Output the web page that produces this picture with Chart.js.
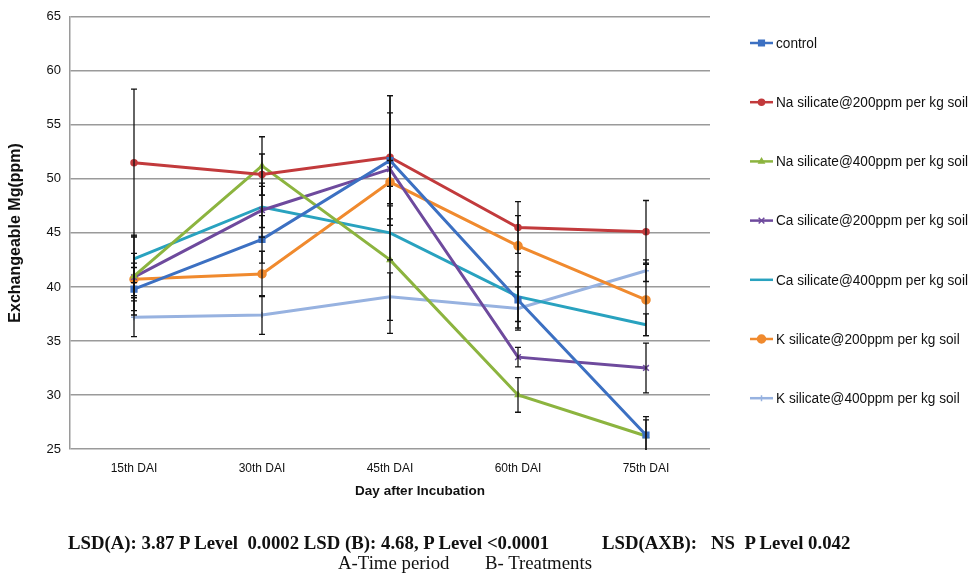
<!DOCTYPE html>
<html>
<head>
<meta charset="utf-8">
<script src="https://cdn.jsdelivr.net/npm/chart.js@4.4.1/dist/chart.umd.min.js"></script>
<style>
  body { margin: 0; background: #fff; }
  #wrap { position: relative; width: 970px; height: 574px; }
  #wrap canvas { position: absolute; left: 0; top: 0; }
  .txt { position: absolute; white-space: pre; color: #111; line-height: 20px; }
  .xt { font: bold 13.5px "Liberation Sans", Arial, sans-serif; }
  .ft { font: bold 18.8px "Liberation Serif", "Times New Roman", serif; }
  .fn { font: 18.8px "Liberation Serif", "Times New Roman", serif; }
</style>
</head>
<body>
<div id="wrap">
  <canvas id="mgChart" width="970" height="574"></canvas>
  <div class="txt xt" style="left:420px; top:483px; transform:translateX(-50%);">Day after Incubation</div>
  <div class="txt ft" style="left:68px; top:532px;">LSD(A): 3.87 P Level  0.0002 LSD (B): 4.68, P Level &lt;0.0001</div>
  <div class="txt ft" style="left:602px; top:532px;">LSD(AXB):   NS  P Level 0.042</div>
  <div class="txt fn" style="left:338px; top:552px;">A-Time period</div>
  <div class="txt fn" style="left:485px; top:552px;">B- Treatments</div>
</div>
<script>
// --- dati ---
const categories = ['15th DAI', '30th DAI', '45th DAI', '60th DAI', '75th DAI'];
const yTicks = [25, 30, 35, 40, 45, 50, 55, 60, 65];

const seriesNames = [
  'control',
  'Na silicate@200ppm per kg soil',
  'Na silicate@400ppm per kg soil',
  'Ca silicate@200ppm per kg soil',
  'Ca silicate@400ppm per kg soil',
  'K silicate@200ppm per kg soil',
  'K silicate@400ppm per kg soil'
];

const control  = [39.8, 44.4, 51.7, 38.8, 26.3];
const naSil200 = [51.5, 50.4, 52.0, 45.5, 45.1];
const naSil400 = [41.0, 51.2, 42.5, 30.0, 26.2];
const caSil200 = [40.9, 47.1, 50.9, 33.5, 32.5];
const caSil400 = [42.6, 47.4, 45.0, 39.1, 36.5];
const kSil200  = [40.7, 41.2, 49.7, 43.8, 38.8];
const kSil400  = [37.2, 37.4, 39.1, 38.0, 41.5];

// barre d'errore (+/-)
const controlErr  = [2.0, 2.2, 6.0, 2.6, 1.7];
const naSil200Err = [6.8, 1.9, 5.7, 2.4, 2.9];
const naSil400Err = [3.6, 2.7, 6.8, 1.6, 1.5];
const caSil200Err = [2.2, 2.5, 5.2, 0.9, 2.3];
const caSil400Err = [2.2, 1.9, 2.5, 2.3, 1.0];
const kSil200Err  = [1.5, 2.1, 2.0, 2.8, 3.3];
const kSil400Err  = [1.8, 1.8, 2.2, 2.0, 1.0];

const values = [control, naSil200, naSil400, caSil200, caSil400, kSil200, kSil400];
const errors = [controlErr, naSil200Err, naSil400Err, caSil200Err, caSil400Err, kSil200Err, kSil400Err];

const colors = ['#3c70c2', '#c23a3c', '#8cb43f', '#6e4a9d', '#29a2bf', '#f08a2e', '#97b2e0'];
const markers = ['rect', 'circle', 'triangle', 'crossRot', 'line', 'circle', 'cross'];
const markerSize = [4, 3, 3, 4, 0, 4, 3];

const FONT = '"Liberation Sans", Arial, sans-serif';

// disegna le barre d'errore usando le scale del grafico
const errorBars = {
  id: 'errorBars',
  afterDatasetsDraw(chart) {
    const { ctx, chartArea, scales } = chart;
    ctx.save();
    ctx.beginPath();
    ctx.rect(chartArea.left, chartArea.top, chartArea.right - chartArea.left, chartArea.bottom - chartArea.top + 1);
    ctx.clip();
    ctx.strokeStyle = '#111';
    ctx.lineWidth = 1.3;
    chart.data.datasets.forEach((ds, i) => {
      ds.data.forEach((v, j) => {
        const e = errors[i][j];
        const x = scales.x.getPixelForValue(j);
        const yTop = scales.y.getPixelForValue(v + e);
        const yBot = scales.y.getPixelForValue(v - e);
        ctx.beginPath();
        ctx.moveTo(x, yTop); ctx.lineTo(x, yBot);
        ctx.moveTo(x - 3, yTop); ctx.lineTo(x + 3, yTop);
        ctx.moveTo(x - 3, yBot); ctx.lineTo(x + 3, yBot);
        ctx.stroke();
      });
    });
    ctx.restore();
  }
};

// legenda a destra, stile Excel (testo un po' stretto come nell'originale)
const sideLegend = {
  id: 'sideLegend',
  afterDraw(chart) {
    const { ctx } = chart;
    ctx.save();
    ctx.font = '14px ' + FONT;
    const longest = Math.max(...chart.data.datasets.map(ds => ctx.measureText(ds.label).width));
    const squeeze = Math.min(1, 192 / longest);
    chart.data.datasets.forEach((ds, i) => {
      const y = 43 + i * 59.2;
      ctx.strokeStyle = ds.borderColor;
      ctx.lineWidth = 2.5;
      ctx.beginPath();
      ctx.moveTo(750, y); ctx.lineTo(773, y);
      ctx.stroke();
      if (ds.pointRadius > 0 && Chart.helpers && Chart.helpers.drawPoint) {
        ctx.fillStyle = ds.borderColor;
        ctx.lineWidth = 1.5;
        Chart.helpers.drawPoint(ctx, { pointStyle: ds.pointStyle, radius: ds.pointRadius, rotation: 0, borderWidth: 1.5 }, 761.5, y);
      }
      ctx.save();
      ctx.translate(776, y + 1);
      ctx.scale(squeeze, 1);
      ctx.fillStyle = '#111';
      ctx.textBaseline = 'middle';
      ctx.textAlign = 'left';
      ctx.fillText(ds.label, 0, 0);
      ctx.restore();
    });
    ctx.restore();
  }
};

const ctx = document.getElementById('mgChart').getContext('2d');
const mgChart = new Chart(ctx, {
  type: 'line',
  data: {
    labels: categories,
    datasets: seriesNames.map((name, i) => ({
      label: name,
      data: values[i],
      borderColor: colors[i],
      backgroundColor: colors[i],
      borderWidth: 3,
      pointStyle: markers[i],
      pointRadius: markerSize[i],
      pointBorderWidth: 1.5,
      tension: 0,
      fill: false
    }))
  },
  options: {
    responsive: false,
    animation: false,
    layout: { padding: { top: 12, right: 260, left: 0, bottom: 0 } },
    plugins: {
      legend: { display: false },
      tooltip: { enabled: false }
    },
    scales: {
      x: {
        offset: true,
        grid: { display: false, drawTicks: false },
        border: { display: false },
        ticks: { color: '#111', font: { family: FONT, size: 12 }, padding: 12 },
        afterFit(scale) { scale.height = 125; }
      },
      y: {
        min: 25,
        max: 65,
        afterBuildTicks(scale) { scale.ticks = yTicks.map(v => ({ value: v })); },
        grid: { color: '#9a9a9a', lineWidth: 1.5, drawTicks: false },
        border: { display: true, color: '#9a9a9a', width: 1.5 },
        ticks: { color: '#111', font: { family: FONT, size: 13 }, padding: 9 },
        title: {
          display: true,
          text: 'Exchangeable Mg(ppm)',
          color: '#111',
          font: { family: FONT, size: 16, weight: 'bold' },
          padding: { top: 6, bottom: 0 }
        },
        afterFit(scale) { scale.width = 70; }
      }
    }
  },
  plugins: [errorBars, sideLegend]
});
</script>
</body>
</html>
